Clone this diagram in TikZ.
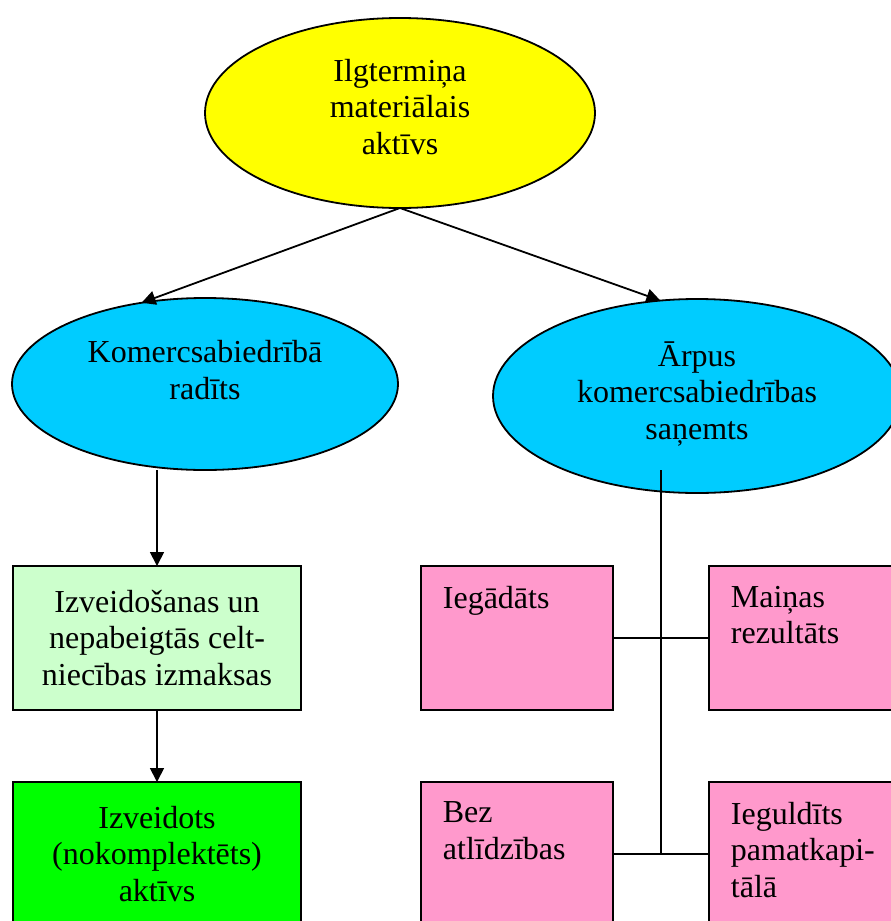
\documentclass[tikz,border=0pt]{standalone}
\usepackage{fontspec}
\setmainfont{Liberation Serif}
\usetikzlibrary{arrows.meta,shapes.geometric}
\definecolor{yel}{HTML}{FFFF00}
\definecolor{blu}{HTML}{00CCFF}
\definecolor{lgreen}{HTML}{CCFFCC}
\definecolor{dgreen}{HTML}{00FF00}
\definecolor{pinkc}{HTML}{FF99CC}
\begin{document}
\begin{tikzpicture}[x=1pt,y=-1pt,
  line width=1.8pt,
  ell/.style={draw,ellipse,inner sep=0pt,outer sep=0pt},
  box/.style={draw,rectangle,inner sep=0pt,outer sep=0pt,anchor=north west,
    font=\fontsize{32}{36.7}\selectfont,align=center},
  lbl/.style={font=\fontsize{32}{36.7}\selectfont,align=center,inner sep=0pt},
  plbl/.style={font=\fontsize{32}{36.7}\selectfont,align=left,inner sep=0pt,anchor=north west},
  arr/.style={-{Triangle[length=14pt,width=14pt]}}]
\useasboundingbox (0,0) rectangle (891,921);
\clip (0,0) rectangle (891,921);
% ellipses
\node[ell,fill=yel,minimum width=390pt,minimum height=190pt] (top) at (400,113) {};
\node[ell,fill=blu,minimum width=386pt,minimum height=172pt] (l) at (205,384) {};
\node[ell,fill=blu,minimum width=408pt,minimum height=194pt] (r) at (697,396) {};
\node[lbl] (toptext) at (400,107) {Ilgtermiņa\\materiālais\\aktīvs};
\node[lbl] (ltext) at (205,370) {Komercsabiedrībā\\radīts};
\node[lbl] (rtext) at (697,394) {Ārpus\\komercsabiedrības\\saņemts};
% left column boxes
\node[box,fill=lgreen,minimum width=288pt,minimum height=144pt] (g1) at (13,566)
  {Izveidošanas un\\nepabeigtās celt-\\niecības izmaksas};
\node[box,fill=dgreen,minimum width=288pt,minimum height=144pt] (g2) at (13,782)
  {Izveidots\\(nokomplektēts)\\aktīvs};
% pink boxes
\node[box,fill=pinkc,minimum width=192pt,minimum height=144pt] (b1) at (421,566) {};
\node[box,fill=pinkc,minimum width=192pt,minimum height=144pt] (b2) at (709,566) {};
\node[box,fill=pinkc,minimum width=192pt,minimum height=144pt] (b3) at (421,782) {};
\node[box,fill=pinkc,minimum width=192pt,minimum height=144pt] (b4) at (709,782) {};
\node[plbl] (t1) at (442,585) {Iegādāts};
\node[plbl] (t2) at (730,585) {Maiņas\\rezultāts};
\node[plbl] (t3) at (442,801) {Bez\\atlīdzības};
\node[plbl] (t4) at (730,801) {Ieguldīts\\pamatkapi-\\tālā};
% connectors
\draw[arr] (top.south) -- (l.128);
\draw[arr] (top.south) -- (r.111);
\draw[arr] (l.south -| g1.north) -- (g1.north);
\draw[arr] (g1.south) -- (g2.north);
\coordinate (jt) at (661,470);
\draw (jt) -- (jt |- b3.east);
\draw (b1.east) -- (b2.west);
\draw (b3.east) -- (b4.west);
\end{tikzpicture}
\end{document}
